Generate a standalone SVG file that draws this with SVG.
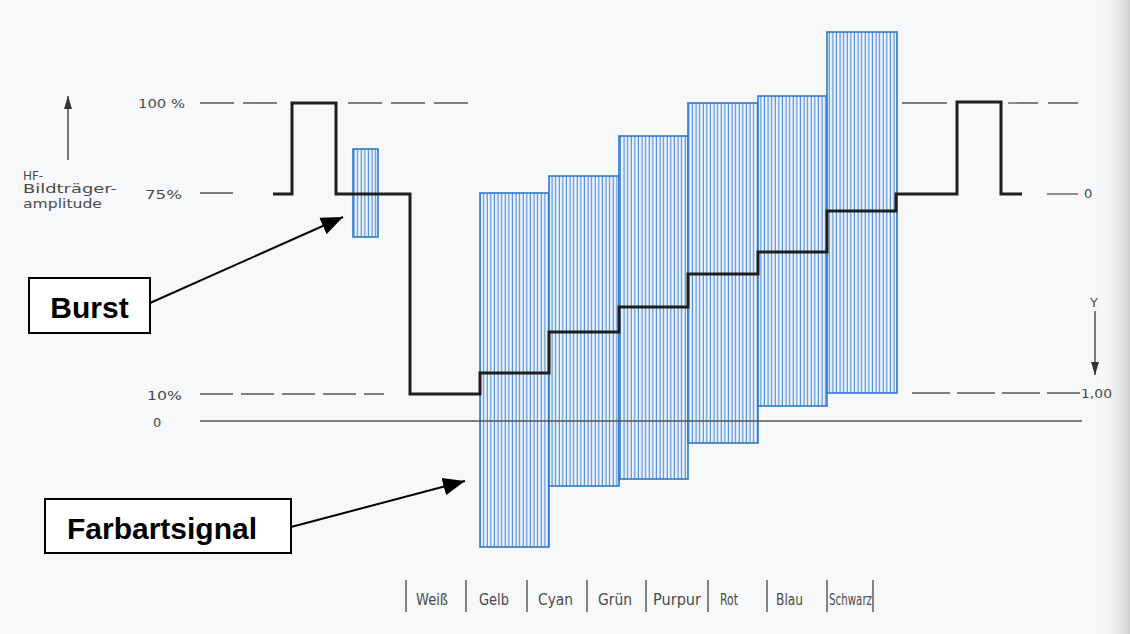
<svg xmlns="http://www.w3.org/2000/svg" width="1130" height="634" viewBox="0 0 1130 634">
  <defs>
    <!-- vertical hatching used for the chroma bars and the burst -->
    <pattern id="hatch" patternUnits="userSpaceOnUse" width="3.6" height="10">
      <rect width="3.6" height="10" fill="#edf3fb"/>
      <line x1="1.2" y1="0" x2="1.2" y2="10" stroke="#3a80cf" stroke-width="1"/>
    </pattern>
    <linearGradient id="edge" x1="0" y1="0" x2="1" y2="0">
      <stop offset="0" stop-color="#f7f8fa" stop-opacity="0"/>
      <stop offset="1" stop-color="#cfd0d2"/>
    </linearGradient>
    <marker id="head" markerUnits="userSpaceOnUse" markerWidth="24" markerHeight="20" refX="22" refY="10" orient="auto">
      <path d="M0,1 L22,10 L0,19 Z" fill="#000"/>
    </marker>
    <marker id="thin" markerUnits="userSpaceOnUse" markerWidth="14" markerHeight="10" refX="13" refY="5" orient="auto">
      <path d="M0,1 L13,5 L0,9 Z" fill="#333"/>
    </marker>
    <style>
      .lbl { font-family: "DejaVu Sans", "Liberation Sans", sans-serif; fill: #4a4a4a; font-size: 13px; }
      .cat { font-family: "DejaVu Sans", "Liberation Sans", sans-serif; fill: #4a4a4a; font-size: 15px; }
      .ref { stroke: #555; stroke-width: 1.3; fill: none; }
      .dash { stroke-dasharray: 34 9; }
      .bar { fill: url(#hatch); stroke: #2e78c8; stroke-width: 1.6; }
      .luma { fill: none; stroke: #1e1e1e; stroke-width: 3; stroke-linejoin: miter; }
      .box { fill: #fff; stroke: #000; stroke-width: 2; }
      .boxtxt { font-family: "Liberation Sans", Arial, sans-serif; font-weight: bold; font-size: 30px; fill: #000; }
      .conn { stroke: #000; stroke-width: 2; fill: none; }
      .tick { stroke: #444; stroke-width: 1.3; }
    </style>
  </defs>

  <!-- page -->
  <rect width="1130" height="634" fill="#f7f8fa"/>
  <rect x="1098" y="0" width="32" height="634" fill="url(#edge)"/>

  <!-- amplitude axis and level labels (left) -->
  <g id="axis-left">
    <line x1="68" y1="160" x2="68" y2="96" stroke="#333" stroke-width="1.3" marker-end="url(#thin)"/>
    <text class="lbl" x="23" y="180" textLength="20" lengthAdjust="spacingAndGlyphs">HF-</text>
    <text class="lbl" x="23" y="193" textLength="94" lengthAdjust="spacingAndGlyphs">Bildträger-</text>
    <text class="lbl" x="23" y="208" textLength="79" lengthAdjust="spacingAndGlyphs">amplitude</text>
    <text class="lbl" x="138" y="108" font-size="15" textLength="47" lengthAdjust="spacingAndGlyphs">100 %</text>
    <text class="lbl" x="145" y="199" font-size="15" textLength="37" lengthAdjust="spacingAndGlyphs">75%</text>
    <text class="lbl" x="147" y="400" font-size="15" textLength="35" lengthAdjust="spacingAndGlyphs">10%</text>
    <text class="lbl" x="153" y="427" font-size="15">0</text>
  </g>

  <!-- chroma bars -->
  <g id="bars">
    <rect id="bar-gelb-chroma" class="bar" x="480" y="193" width="69" height="354"/>
    <rect id="bar-cyan-chroma" class="bar" x="549" y="176" width="70" height="310"/>
    <rect id="bar-gruen-chroma" class="bar" x="619" y="136" width="69" height="343"/>
    <rect id="bar-purpur-chroma" class="bar" x="688" y="103" width="70" height="340"/>
    <rect id="bar-rot-chroma" class="bar" x="758" y="96" width="69" height="310"/>
    <rect id="bar-blau-chroma" class="bar" x="827" y="32" width="70" height="361"/>
  </g>
  <g id="burst">
    <rect class="bar" x="353" y="149" width="25" height="88"/>
  </g>

  <!-- reference levels -->
  <g id="levels">
    <line class="ref dash" x1="200" y1="103" x2="278" y2="103"/>
    <line class="ref dash" x1="348" y1="103" x2="472" y2="103"/>
    <line class="ref" x1="902" y1="103" x2="947" y2="103"/>
    <line class="ref dash" x1="1008" y1="103" x2="1082" y2="103" style="stroke-dasharray:30 10"/>
    <line class="ref" x1="200" y1="193" x2="233" y2="193"/>
    <line class="ref dash" x1="200" y1="394" x2="384" y2="394" style="stroke-dasharray:33 8"/>
    <line class="ref" x1="200" y1="421" x2="1082" y2="421"/>
    <line class="ref dash" x1="912" y1="393" x2="1080" y2="393" style="stroke-dasharray:38 7"/>
    <line class="ref" x1="1047" y1="194" x2="1078" y2="194"/>
  </g>

  <!-- luminance staircase with sync pulses -->
  <g id="luminance">
    <path class="luma" d="M273,194 H292 V103 H336 V194 H410 V394 H480 V373 H549 V332 H619 V307 H688 V274 H758 V252 H827 V211 H896 V194 H957 V102 H1001 V194 H1022"/>
  </g>

  <!-- Y scale (right) -->
  <g id="axis-right">
    <text class="lbl" x="1084" y="198" font-size="15">0</text>
    <text class="lbl" x="1090" y="307" font-size="15">Y</text>
    <line x1="1095" y1="311" x2="1095" y2="375" stroke="#333" stroke-width="1.3" marker-end="url(#thin)"/>
    <text class="lbl" x="1081" y="398" font-size="15" textLength="31" lengthAdjust="spacingAndGlyphs">1,00</text>
  </g>

  <!-- colour names -->
  <g id="colour-names">
    <line class="tick" x1="406" y1="580" x2="406" y2="612"/>
    <text class="cat" x="416" y="605" textLength="32" lengthAdjust="spacingAndGlyphs">Weiß</text>
    <line class="tick" x1="466" y1="580" x2="466" y2="612"/>
    <text class="cat" x="479" y="605" textLength="30" lengthAdjust="spacingAndGlyphs">Gelb</text>
    <line class="tick" x1="527" y1="580" x2="527" y2="612"/>
    <text class="cat" x="538" y="605" textLength="35" lengthAdjust="spacingAndGlyphs">Cyan</text>
    <line class="tick" x1="587" y1="580" x2="587" y2="612"/>
    <text class="cat" x="598" y="605" textLength="34" lengthAdjust="spacingAndGlyphs">Grün</text>
    <line class="tick" x1="646" y1="580" x2="646" y2="612"/>
    <text class="cat" x="653" y="605" textLength="48" lengthAdjust="spacingAndGlyphs">Purpur</text>
    <line class="tick" x1="708" y1="580" x2="708" y2="612"/>
    <text class="cat" x="720" y="605" textLength="18" lengthAdjust="spacingAndGlyphs">Rot</text>
    <line class="tick" x1="767" y1="580" x2="767" y2="612"/>
    <text class="cat" x="776" y="605" textLength="27" lengthAdjust="spacingAndGlyphs">Blau</text>
    <line class="tick" x1="827" y1="580" x2="827" y2="612"/>
    <text class="cat" x="829" y="605" textLength="43" lengthAdjust="spacingAndGlyphs">Schwarz</text>
    <line class="tick" x1="873" y1="580" x2="873" y2="612"/>
  </g>

  <!-- callouts -->
  <g id="connectors">
    <line class="conn" x1="150" y1="303" x2="343" y2="217" marker-end="url(#head)"/>
    <line class="conn" x1="291" y1="527" x2="465" y2="481" marker-end="url(#head)"/>
  </g>
  <g id="label-burst">
    <rect class="box" x="29" y="278" width="121" height="55"/>
    <text class="boxtxt" x="89.5" y="318" text-anchor="middle">Burst</text>
  </g>
  <g id="label-farbartsignal">
    <rect class="box" x="45" y="499" width="246" height="54"/>
    <text class="boxtxt" x="162" y="539" text-anchor="middle">Farbartsignal</text>
  </g>
</svg>
